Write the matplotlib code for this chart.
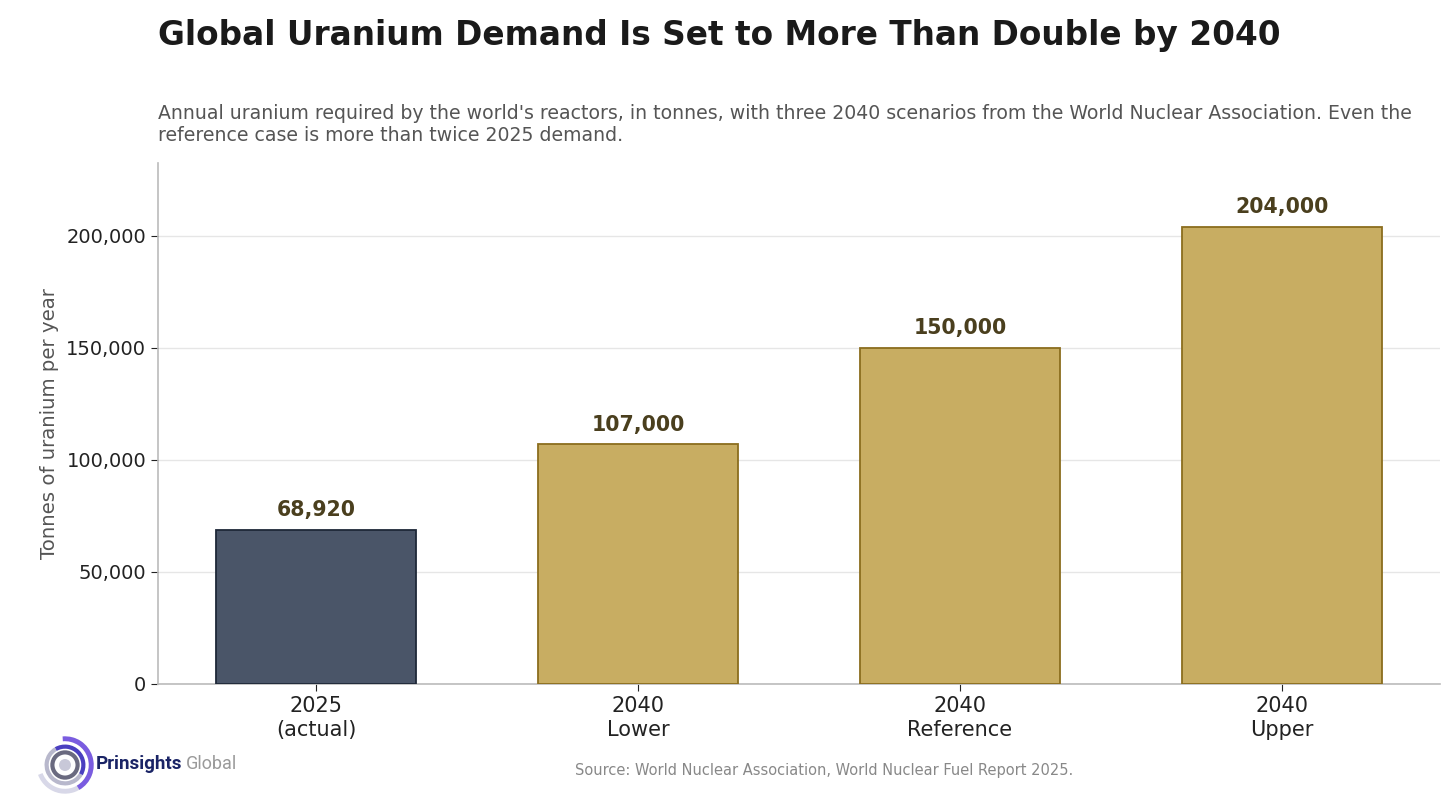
import numpy as np
import matplotlib.pyplot as plt
from matplotlib.patches import Arc, Circle
from matplotlib.ticker import FuncFormatter

# Data
categories = ["2025\n(actual)", "2040\nLower", "2040\nReference", "2040\nUpper"]
demand = [68920, 107000, 150000, 204000]
value_labels = ["68,920", "107,000", "150,000", "204,000"]
y_ticks = [0, 50000, 100000, 150000, 200000]

fill_colors = ["#4a5568", "#c8ad62", "#c8ad62", "#c8ad62"]
edge_colors = ["#1e2838", "#8b6d1e", "#8b6d1e", "#8b6d1e"]

fig = plt.figure(figsize=(14.56, 8.06), dpi=100)
ax = fig.add_axes([0.1085, 0.1514, 0.8805, 0.6464])

x = np.arange(len(categories))
bars = ax.bar(x, demand, width=0.62, color=fill_colors, edgecolor=edge_colors,
              linewidth=1.3, zorder=3)

# value labels above bars
for xi, v, lab in zip(x, demand, value_labels):
    ax.annotate(lab, (xi, v), xytext=(0, 7), textcoords="offset points",
                ha="center", va="bottom", fontsize=14.8, fontweight="bold",
                color="#4a3f1e")

ax.set_xticks(x)
ax.set_xticklabels(categories, fontsize=15, color="#222222", linespacing=1.25)
ax.set_yticks(y_ticks)
ax.yaxis.set_major_formatter(FuncFormatter(lambda v, p: f"{int(v):,}"))
ax.tick_params(axis="y", labelsize=14, colors="#222222", length=5)
ax.tick_params(axis="x", length=5, colors="#222222")
ax.set_ylim(0, 232600)
ax.set_ylabel("Tonnes of uranium per year", fontsize=14.2, color="#555555",
              labelpad=5)

ax.grid(axis="y", color="#e6e6e6", linewidth=1, zorder=0)
ax.set_axisbelow(True)
for s in ["top", "right"]:
    ax.spines[s].set_visible(False)
for s in ["left", "bottom"]:
    ax.spines[s].set_color("#bbbbbb")
    ax.spines[s].set_linewidth(1.2)

# titles
fig.text(158 / 1456, 1 - 36 / 806,
         "Global Uranium Demand Is Set to More Than Double by 2040",
         fontsize=23.6, fontweight="bold", color="#1a1a1a", ha="left", va="center")
fig.text(158 / 1456, 1 - 104 / 806,
         "Annual uranium required by the world's reactors, in tonnes, with three 2040 scenarios "
         "from the World Nuclear Association. Even the\nreference case is more than twice 2025 demand.",
         fontsize=13.6, color="#555555", ha="left", va="top", linespacing=1.2)

# source
fig.text(824 / 1456, 1 - 770 / 806,
         "Source: World Nuclear Association, World Nuclear Fuel Report 2025.",
         fontsize=10.5, color="#888888", ha="center", va="center")

# logo
lax = fig.add_axes([30 / 1456, 6 / 806, 70 / 1456, 70 / 806])
lax.set_xlim(-1, 1)
lax.set_ylim(-1, 1)
lax.set_aspect("equal")
lax.axis("off")
lax.add_patch(Arc((0, 0), 1.5, 1.5, theta1=200, theta2=80, color="#d8d8e8", lw=3.5))
lax.add_patch(Arc((0, 0), 1.5, 1.5, theta1=-60, theta2=95, color="#7a5ce0", lw=3.5))
lax.add_patch(Arc((0, 0), 1.05, 1.05, theta1=120, theta2=330, color="#b8b8cc", lw=3))
lax.add_patch(Arc((0, 0), 1.05, 1.05, theta1=-30, theta2=120, color="#4a3fc0", lw=3))
lax.add_patch(Circle((0, 0), 0.36, fill=False, ec="#6a6a80", lw=3))
lax.add_patch(Circle((0, 0), 0.15, color="#c8c8d8"))
fig.text(96 / 1456, 1 - 764 / 806, "Prinsights", fontsize=13.5, fontweight="bold",
         family="Roboto", color="#1a2466", ha="left", va="center")
fig.text(186 / 1456, 1 - 764 / 806, "Global", fontsize=13, family="Roboto",
         color="#9a9a9a", ha="left", va="center")

fig.savefig("out.png", dpi=100)
